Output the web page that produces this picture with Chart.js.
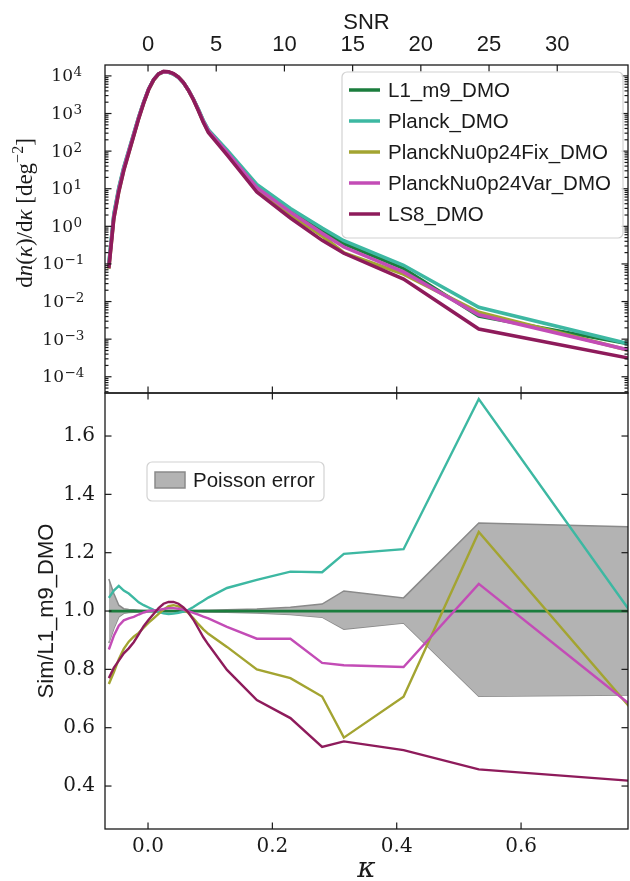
<!DOCTYPE html>
<html>
<head>
<meta charset="utf-8">
<script src="https://cdn.jsdelivr.net/npm/chart.js@4.4.1/dist/chart.umd.min.js"></script>
<style>
  html, body { margin: 0; padding: 0; background: #fff; }
  #wrap { position: relative; width: 630px; height: 881px; }
  canvas { position: absolute; left: 0; top: 0; }
</style>
</head>
<body>
<div id="wrap">
  <canvas id="densityChart" width="630" height="881"></canvas>
  <canvas id="ratioChart" width="630" height="881"></canvas>
</div>
<script>
// peak counts: kappa bins (shared by both panels)
const kappa = [-0.063, -0.055, -0.047, -0.039, -0.031, -0.023, -0.015, -0.007, 0.001, 0.009,
               0.017, 0.025, 0.033, 0.041, 0.049, 0.057, 0.065, 0.073, 0.081, 0.089,
               0.097, 0.127, 0.175, 0.229, 0.280, 0.315, 0.411, 0.532, 0.775];

// log10 of dn/dkappa for the reference run L1_m9_DMO
const l1Log10 = [-1.0, 0.3, 1.0, 1.55, 2.0, 2.45, 2.9, 3.3, 3.65, 3.9,
                 4.05, 4.11, 4.1, 4.05, 3.96, 3.82, 3.62, 3.38, 3.1, 2.8,
                 2.55, 2.0, 1.07, 0.42, -0.1, -0.46, -1.12, -2.39, -3.13];

// Sim / L1_m9_DMO ratios
const l1Ratio = [1, 1, 1, 1, 1, 1, 1, 1, 1, 1, 1, 1, 1, 1, 1, 1, 1, 1, 1, 1, 1, 1, 1, 1, 1, 1, 1, 1, 1];
const planckRatio = [1.045, 1.07, 1.086, 1.07, 1.06, 1.045, 1.03, 1.02, 1.012, 1.004,
                     0.997, 0.992, 0.99, 0.991, 0.994, 0.998, 1.004, 1.014, 1.025, 1.035,
                     1.046, 1.079, 1.107, 1.135, 1.133, 1.196, 1.212, 1.727, 1.0];
const fixRatio = [0.75, 0.79, 0.835, 0.87, 0.895, 0.912, 0.925, 0.943, 0.96, 0.975,
                  0.99, 1.005, 1.017, 1.02, 1.016, 1.006, 0.993, 0.975, 0.955, 0.937,
                  0.922, 0.877, 0.8, 0.77, 0.707, 0.566, 0.706, 1.271, 0.67];
const varRatio = [0.868, 0.915, 0.95, 0.968, 0.975, 0.98, 0.988, 0.995, 1.0, 1.002,
                  1.004, 1.007, 1.01, 1.01, 1.008, 1.005, 1.0, 0.994, 0.988, 0.981,
                  0.975, 0.946, 0.905, 0.905, 0.822, 0.814, 0.808, 1.093, 0.68];
const ls8Ratio = [0.77, 0.805, 0.83, 0.855, 0.872, 0.893, 0.92, 0.948, 0.97, 0.99,
                  1.01, 1.025, 1.031, 1.031, 1.025, 1.012, 0.995, 0.97, 0.94, 0.91,
                  0.885, 0.798, 0.695, 0.633, 0.534, 0.553, 0.523, 0.457, 0.418];

// Poisson error band around 1
const poissonUpper = [1.11, 1.06, 1.02, 1.008, 1.005, 1.004, 1.003, 1.002, 1.002, 1.002,
                      1.002, 1.002, 1.002, 1.002, 1.002, 1.002, 1.002, 1.002, 1.002, 1.003,
                      1.003, 1.004, 1.007, 1.013, 1.024, 1.069, 1.045, 1.302, 1.289];
const poissonLower = [0.89, 0.94, 0.98, 0.992, 0.995, 0.996, 0.997, 0.998, 0.998, 0.998,
                      0.998, 0.998, 0.998, 0.998, 0.998, 0.998, 0.998, 0.998, 0.998, 0.997,
                      0.997, 0.996, 0.993, 0.988, 0.979, 0.938, 0.959, 0.708, 0.712];

const seriesLabels = ['L1_m9_DMO', 'Planck_DMO', 'PlanckNu0p24Fix_DMO', 'PlanckNu0p24Var_DMO', 'LS8_DMO'];
const seriesColors = ['#1b7d3d', '#3db8a2', '#a3a431', '#c34cb6', '#8e1b5b'];
const seriesRatios = [l1Ratio, planckRatio, fixRatio, varRatio, ls8Ratio];

// tick labels
const kappaTicks = [0.0, 0.2, 0.4, 0.6];
const snrTicks = [0, 5, 10, 15, 20, 25, 30];
const densityExponents = [-4, -3, -2, -1, 0, 1, 2, 3, 4];
const ratioTicks = [0.4, 0.6, 0.8, 1.0, 1.2, 1.4, 1.6];

// axis ranges
const kappaMin = -0.0692, kappaMax = 0.772;
const snrPerKappa = 45.58;
const densityMin = 3.7e-5, densityMax = 1.95e4;
const ratioMin = 0.2527, ratioMax = 1.7475;

const INK = '#1a1a1a';
const SANS = 'Liberation Sans';
const SERIF = 'DejaVu Serif';
const TICK_MAJOR = 6.5;
const TICK_MINOR = 3.5;

function densityPoints(ratio) {
    return kappa.map((k, i) => ({ x: k, y: Math.pow(10, l1Log10[i]) * ratio[i] }));
}

function ratioPoints(values) {
    return kappa.map((k, i) => ({ x: k, y: values[i] }));
}

function line(ctx, x1, y1, x2, y2) {
    ctx.beginPath();
    ctx.moveTo(x1, y1);
    ctx.lineTo(x2, y2);
    ctx.stroke();
}

// matplotlib style: ticks point inward on all four sides
function xTick(ctx, a, x, atTop, len) {
    if (x < a.left - 0.5 || x > a.right + 0.5) return;
    if (atTop) line(ctx, x, a.top, x, a.top + len);
    else line(ctx, x, a.bottom, x, a.bottom - len);
}

function yTicks(ctx, a, y, len) {
    if (y < a.top - 0.5 || y > a.bottom + 0.5) return;
    line(ctx, a.left, y, a.left + len, y);
    line(ctx, a.right, y, a.right - len, y);
}

function frame(ctx, a) {
    ctx.lineWidth = 1.3;
    ctx.strokeRect(a.left, a.top, a.right - a.left, a.bottom - a.top);
}

function roundBox(ctx, x, y, w, h, r) {
    ctx.beginPath();
    ctx.moveTo(x + r, y);
    ctx.arcTo(x + w, y, x + w, y + h, r);
    ctx.arcTo(x + w, y + h, x, y + h, r);
    ctx.arcTo(x, y + h, x, y, r);
    ctx.arcTo(x, y, x + w, y, r);
    ctx.closePath();
    ctx.fillStyle = 'rgba(255,255,255,0.8)';
    ctx.fill();
    ctx.strokeStyle = '#d2d2d2';
    ctx.lineWidth = 1.2;
    ctx.stroke();
}

const densityDecor = {
    id: 'densityDecor',
    afterDraw(chart) {
        const { ctx, chartArea: a, scales } = chart;
        ctx.save();
        ctx.strokeStyle = INK;
        ctx.lineWidth = 1.2;
        snrTicks.forEach(v => xTick(ctx, a, scales.snr.getPixelForValue(v), true, TICK_MAJOR));
        kappaTicks.forEach(v => xTick(ctx, a, scales.x.getPixelForValue(v), false, TICK_MAJOR));
        densityExponents.forEach(n => yTicks(ctx, a, scales.y.getPixelForValue(Math.pow(10, n)), TICK_MAJOR));
        for (let n = -5; n <= 4; n++) {
            for (let m = 2; m <= 9; m++) {
                const v = m * Math.pow(10, n);
                if (v > densityMin && v < densityMax) yTicks(ctx, a, scales.y.getPixelForValue(v), TICK_MINOR);
            }
        }
        frame(ctx, a);

        // 10^n labels
        ctx.fillStyle = INK;
        densityExponents.forEach(n => {
            const y = scales.y.getPixelForValue(Math.pow(10, n));
            const x = n < 0 ? 64 : 73;
            ctx.font = '17px ' + SERIF;
            ctx.textAlign = 'right';
            ctx.textBaseline = 'middle';
            ctx.fillText('10', x, y + 1);
            ctx.font = '13.5px ' + SERIF;
            ctx.textAlign = 'left';
            ctx.textBaseline = 'alphabetic';
            ctx.fillText(n < 0 ? '\u2212' + (-n) : String(n), x + 0.5, y + 0.5);
        });

        // y title: dn(kappa)/dkappa [deg^-2]
        const parts = [
            { t: 'd', f: '23px Liberation Serif' },
            { t: 'n', f: 'italic 23px Liberation Serif' },
            { t: '(', f: '23px Liberation Serif' },
            { t: '\u03ba', f: 'italic 23px Liberation Serif' },
            { t: ')/d', f: '23px Liberation Serif' },
            { t: '\u03ba', f: 'italic 23px Liberation Serif' },
            { t: ' [deg', f: '23px Liberation Serif' },
            { t: '\u22122', f: '16px Liberation Serif', dy: -9 },
            { t: ']', f: '23px Liberation Serif' }
        ];
        let total = 0;
        parts.forEach(p => { ctx.font = p.f; p.w = ctx.measureText(p.t).width; total += p.w; });
        ctx.translate(32, 213);
        ctx.rotate(-Math.PI / 2);
        ctx.textAlign = 'left';
        ctx.textBaseline = 'alphabetic';
        let px = -total / 2;
        parts.forEach(p => { ctx.font = p.f; ctx.fillText(p.t, px, p.dy || 0); px += p.w; });
        ctx.setTransform(1, 0, 0, 1, 0, 0);

        // legend
        roundBox(ctx, 342, 72, 281, 166, 5);
        chart.data.datasets.forEach((ds, i) => {
            const y = 90 + i * 31;
            ctx.strokeStyle = ds.borderColor;
            ctx.lineWidth = 3.5;
            line(ctx, 349, y, 380, y);
            ctx.fillStyle = INK;
            ctx.font = '20.5px ' + SANS;
            ctx.textAlign = 'left';
            ctx.textBaseline = 'middle';
            ctx.fillText(ds.label, 388, y + 1);
        });
        ctx.restore();
    }
};

const ratioDecor = {
    id: 'ratioDecor',
    afterDraw(chart) {
        const { ctx, chartArea: a, scales } = chart;
        ctx.save();
        ctx.strokeStyle = INK;
        ctx.lineWidth = 1.2;
        kappaTicks.forEach(v => {
            const x = scales.x.getPixelForValue(v);
            xTick(ctx, a, x, true, TICK_MAJOR);
            xTick(ctx, a, x, false, TICK_MAJOR);
        });
        ratioTicks.forEach(v => yTicks(ctx, a, scales.y.getPixelForValue(v), TICK_MAJOR));
        frame(ctx, a);

        // Poisson error legend
        const band = chart.data.datasets[0];
        roundBox(ctx, 147, 462, 177, 39, 5);
        ctx.fillStyle = band.backgroundColor;
        ctx.fillRect(155, 472, 30, 16);
        ctx.strokeStyle = band.borderColor;
        ctx.lineWidth = 1.5;
        ctx.strokeRect(155, 472, 30, 16);
        ctx.fillStyle = INK;
        ctx.font = '20.5px ' + SANS;
        ctx.textAlign = 'left';
        ctx.textBaseline = 'middle';
        ctx.fillText(band.label, 193, 481);
        ctx.restore();
    }
};

const common = {
    responsive: false,
    animation: false,
    events: [],
    plugins: { legend: { display: false }, tooltip: { enabled: false } }
};

new Chart(document.getElementById('densityChart'), {
    type: 'line',
    data: {
        datasets: seriesLabels.map((label, i) => ({
            label: label,
            data: densityPoints(seriesRatios[i]),
            borderColor: seriesColors[i],
            borderWidth: 3.5,
            pointRadius: 0,
            tension: 0,
            fill: false,
            order: seriesLabels.length - i
        }))
    },
    options: Object.assign({}, common, {
        layout: { padding: { top: 0, right: 2, bottom: 881 - 393, left: 0 } },
        scales: {
            x: { type: 'linear', min: kappaMin, max: kappaMax, display: false },
            snr: {
                type: 'linear', position: 'top', axis: 'x',
                min: kappaMin * snrPerKappa, max: kappaMax * snrPerKappa,
                afterBuildTicks: s => { s.ticks = snrTicks.map(v => ({ value: v })); },
                afterFit: s => { s.height = 65; },
                grid: { display: false, drawTicks: false },
                border: { display: false },
                ticks: { font: { family: SANS, size: 22 }, color: INK, padding: 7, maxRotation: 0, autoSkip: false,
                         callback: v => String(v) },
                title: { display: true, text: 'SNR', font: { family: SANS, size: 22 }, color: INK,
                         padding: { top: 10, bottom: 0 } }
            },
            y: {
                type: 'logarithmic', min: densityMin, max: densityMax,
                afterBuildTicks: s => { s.ticks = densityExponents.map(n => ({ value: Math.pow(10, n) })); },
                afterFit: s => { s.width = 105; },
                grid: { display: false, drawTicks: false },
                border: { display: false },
                ticks: { display: false }
            }
        }
    }),
    plugins: [densityDecor]
});

new Chart(document.getElementById('ratioChart'), {
    type: 'line',
    data: {
        datasets: [
            { label: 'Poisson error', data: ratioPoints(poissonUpper), borderColor: '#8a8a8a', borderWidth: 1.5,
              backgroundColor: '#b3b3b3', fill: '+1', pointRadius: 0, tension: 0, order: 10 },
            { label: 'Poisson lower', data: ratioPoints(poissonLower), borderColor: '#8a8a8a', borderWidth: 1.5,
              fill: false, pointRadius: 0, tension: 0, order: 10 }
        ].concat(seriesLabels.map((label, i) => ({
            label: label,
            data: ratioPoints(seriesRatios[i]),
            borderColor: seriesColors[i],
            borderWidth: i === 0 ? 2.8 : 2.4,
            pointRadius: 0,
            tension: 0,
            fill: false,
            order: seriesLabels.length - i
        })))
    },
    options: Object.assign({}, common, {
        layout: { padding: { top: 393, right: 2, bottom: 0, left: 0 } },
        scales: {
            x: {
                type: 'linear', min: kappaMin, max: kappaMax,
                afterBuildTicks: s => { s.ticks = kappaTicks.map(v => ({ value: v })); },
                afterFit: s => { s.height = 52; },
                grid: { display: false, drawTicks: false },
                border: { display: false },
                ticks: { font: { family: SERIF, size: 20 }, color: INK, padding: 6, maxRotation: 0, autoSkip: false,
                         callback: v => v.toFixed(1) },
                title: { display: true, text: '\u03ba', color: INK,
                         font: { family: SERIF, style: 'italic', size: 28, lineHeight: 0.8 },
                         padding: { top: 0, bottom: 0 } }
            },
            y: {
                type: 'linear', min: ratioMin, max: ratioMax,
                afterBuildTicks: s => { s.ticks = ratioTicks.map(v => ({ value: v })); },
                afterFit: s => { s.width = 105; },
                grid: { display: false, drawTicks: false },
                border: { display: false },
                ticks: { font: { family: SERIF, size: 20 }, color: INK, padding: 10, autoSkip: false,
                         callback: v => v.toFixed(1) },
                title: { display: true, text: 'Sim/L1_m9_DMO', color: INK, font: { family: SANS, size: 22 },
                         padding: { top: 34, bottom: 0 } }
            }
        }
    }),
    plugins: [ratioDecor]
});
</script>
</body>
</html>
